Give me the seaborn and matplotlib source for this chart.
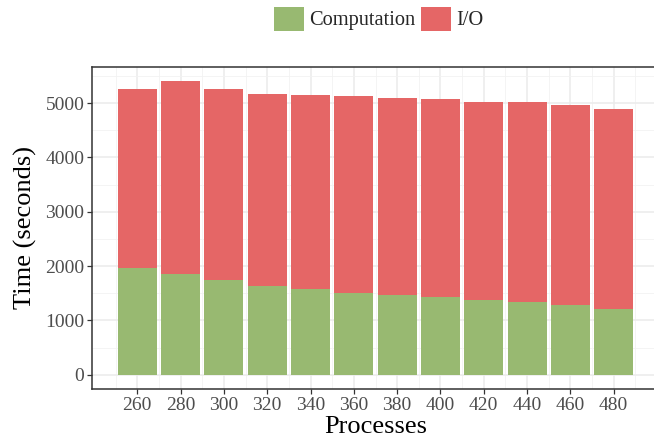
import matplotlib
matplotlib.use("Agg")
import matplotlib.pyplot as plt
from matplotlib.patches import Patch
from matplotlib.ticker import MultipleLocator
import seaborn as sns
import pandas as pd

# data
processes = [260, 280, 300, 320, 340, 360, 380, 400, 420, 440, 460, 480]
computation = [1970, 1862, 1746, 1636, 1581, 1507, 1470, 1434, 1384, 1348, 1287, 1219]
total_time = [5251, 5404, 5252, 5165, 5146, 5128, 5086, 5073, 5018, 5018, 4963, 4889]

series_labels = ["Computation", "I/O"]
colors = {"Computation": "#98B971", "I/O": "#E56666"}

df = pd.DataFrame({"processes": processes,
                   "computation": computation,
                   "total": total_time})

sns.set_theme(style="white")
plt.rcParams["font.family"] = ["Liberation Serif", "DejaVu Serif"]

fig = plt.figure(figsize=(6.54, 4.45), dpi=100)
W, H = 654, 445
ax = fig.add_axes([92 / W, (H - 389) / H, (659 - 92) / W, (389 - 66.7) / H])

# stacked bars: I/O on top of computation -> draw total first, then computation
sns.barplot(data=df, x="processes", y="total", native_scale=True, orient="x",
            color=colors["I/O"], saturation=1, width=0.9, linewidth=0, ax=ax, zorder=2)
sns.barplot(data=df, x="processes", y="computation", native_scale=True, orient="x",
            color=colors["Computation"], saturation=1, width=0.9, linewidth=0, ax=ax, zorder=3)

ax.set_xlim(239.1, 500.9)
ax.set_ylim(-262, 5670)
ax.xaxis.set_major_locator(MultipleLocator(20))
ax.xaxis.set_minor_locator(MultipleLocator(20))
ax.set_xticks(processes)
ax.set_xticks([p + 10 for p in [240] + processes[:-1]] + [490], minor=True)
ax.set_yticks(range(0, 5001, 1000))
ax.set_yticks(range(500, 5501, 1000), minor=True)

ax.set_axisbelow(True)
ax.grid(which="major", color="#EBEBEB", linewidth=1.1, zorder=0)
ax.grid(which="minor", color="#F2F2F2", linewidth=0.6, zorder=0)

for s in ax.spines.values():
    s.set_color("#333333")
    s.set_linewidth(1.1)

ax.tick_params(axis="both", which="major", length=3.5, width=0.9, color="#333333",
               labelsize=14, labelcolor="#4D4D4D", pad=2, bottom=True, left=True)
ax.tick_params(axis="both", which="minor", length=0)

ax.set_xlabel("Processes", fontsize=19, color="black", labelpad=2)
ax.set_ylabel("Time (seconds)", fontsize=19, color="black", labelpad=6)

handles = [Patch(facecolor=colors[k], edgecolor="none", label=k) for k in series_labels]
fig.legend(handles=handles, loc="center", bbox_to_anchor=(379 / W, 1 - 18.6 / H),
           ncol=2, frameon=False, fontsize=14.7, handlelength=1.47, handleheight=1.42,
           handletextpad=0.25, columnspacing=0.27, borderaxespad=0, borderpad=0)

fig.savefig("out.png", dpi=100)
